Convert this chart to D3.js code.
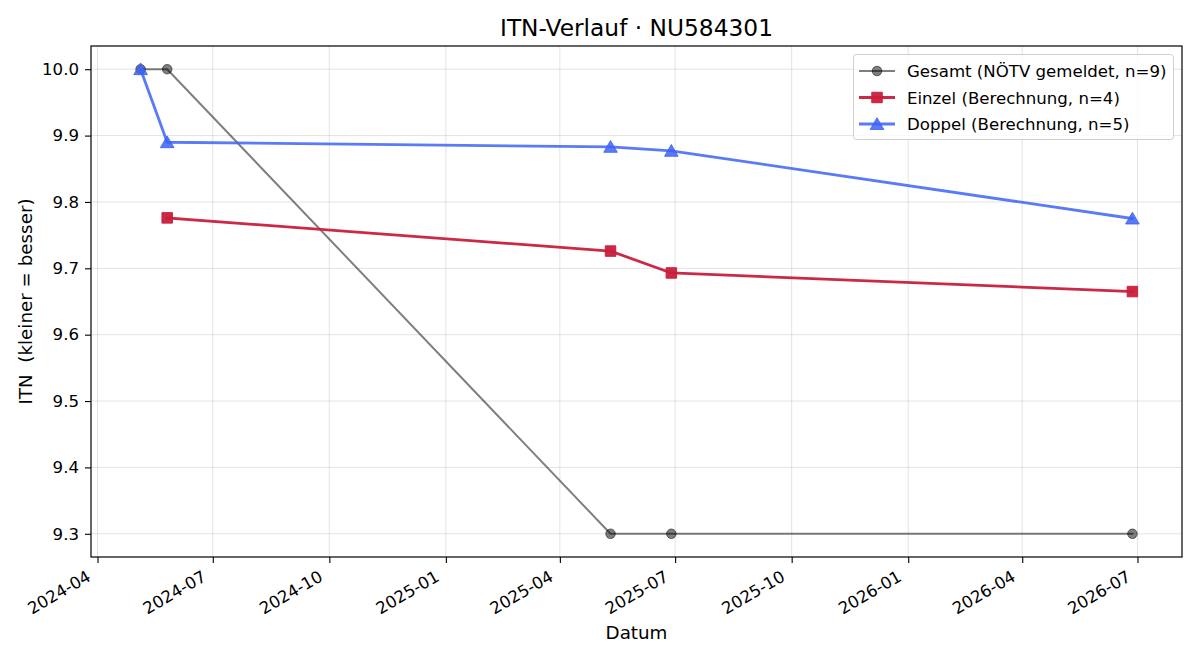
<!DOCTYPE html>
<html>
<head>
<meta charset="utf-8">
<script src="https://d3js.org/d3.v7.min.js"></script>
<style>
  body { margin: 0; background: #fff; }
  svg { font-family: "DejaVu Sans", sans-serif; display: block; }
</style>
</head>
<body>
<script>
// data
const gesamtDates  = ['2024-05-05', '2024-05-26', '2025-05-11', '2025-06-28', '2026-06-27'];
const gesamtValues = [10.0, 10.0, 9.3, 9.3, 9.3];
const einzelDates  = ['2024-05-26', '2025-05-11', '2025-06-28', '2026-06-27'];
const einzelValues = [9.776, 9.726, 9.693, 9.665];
const doppelDates  = ['2024-05-05', '2024-05-26', '2025-05-11', '2025-06-28', '2026-06-27'];
const doppelValues = [10.0, 9.890, 9.883, 9.877, 9.775];
const xTickLabels  = ['2024-04', '2024-07', '2024-10', '2025-01', '2025-04', '2025-07', '2025-10', '2026-01', '2026-04', '2026-07'];
const yTickValues  = [9.3, 9.4, 9.5, 9.6, 9.7, 9.8, 9.9, 10.0];
const seriesNames  = ['Gesamt (NÖTV gemeldet, n=9)', 'Einzel (Berechnung, n=4)', 'Doppel (Berechnung, n=5)'];

const W = 1200, H = 660;
const mLeft = 91, mRight = 1182, mTop = 46, mBottom = 557;
const parse = d3.utcParse('%Y-%m-%d');
const parseM = d3.utcParse('%Y-%m');

const series = [
  {name: seriesNames[0], dates: gesamtDates, values: gesamtValues, color: '#000', opacity: 0.5, lw: 2, marker: 'circle'},
  {name: seriesNames[1], dates: einzelDates, values: einzelValues, color: '#c81e3c', opacity: 0.95, lw: 2.8, marker: 'square'},
  {name: seriesNames[2], dates: doppelDates, values: doppelValues, color: '#3d63f5', opacity: 0.85, lw: 2.8, marker: 'triangle'}
].map(s => ({...s, pts: s.dates.map((d, i) => ({date: parse(d), value: s.values[i]}))}));

// domain with 5% margins like matplotlib
const allDates = series.flatMap(s => s.pts.map(p => +p.date));
const allVals = series.flatMap(s => s.values);
const dMin = d3.min(allDates), dMax = d3.max(allDates);
const dPad = (dMax - dMin) * 0.05;
const vMin = d3.min(allVals), vMax = d3.max(allVals);
const vPad = (vMax - vMin) * 0.05;

const x = d3.scaleUtc().domain([new Date(dMin - dPad), new Date(dMax + dPad)]).range([mLeft, mRight]);
const y = d3.scaleLinear().domain([vMin - vPad, vMax + vPad]).range([mBottom, mTop]);

const svg = d3.select('body').append('svg').attr('width', W).attr('height', H);

const xTicks = xTickLabels.map(parseM);

// grid
svg.append('g').selectAll('line').data(xTicks).enter().append('line')
  .attr('x1', d => x(d)).attr('x2', d => x(d)).attr('y1', mTop).attr('y2', mBottom)
  .attr('stroke', '#b0b0b0').attr('stroke-opacity', 0.35).attr('stroke-width', 1);
svg.append('g').selectAll('line').data(yTickValues).enter().append('line')
  .attr('x1', mLeft).attr('x2', mRight).attr('y1', d => y(d)).attr('y2', d => y(d))
  .attr('stroke', '#b0b0b0').attr('stroke-opacity', 0.35).attr('stroke-width', 1);

// axes
const xAxis = svg.append('g').attr('transform', 'translate(0,' + mBottom + ')')
  .call(d3.axisBottom(x).tickValues(xTicks).tickFormat(d3.utcFormat('%Y-%m')).tickSize(6).tickSizeOuter(0));
xAxis.select('.domain').remove();
xAxis.selectAll('.tick line').attr('stroke', '#000').attr('stroke-width', 1.1);
xAxis.selectAll('text')
  .attr('font-size', 16.6).attr('fill', '#000').attr('font-family', 'DejaVu Sans')
  .attr('text-anchor', 'end').attr('dy', null).attr('x', 0).attr('y', 0)
  .attr('transform', 'translate(-6,23) rotate(-30)');

const yAxis = svg.append('g').attr('transform', 'translate(' + mLeft + ',0)')
  .call(d3.axisLeft(y).tickValues(yTickValues).tickFormat(d3.format('.1f')).tickSize(6).tickPadding(6).tickSizeOuter(0));
yAxis.select('.domain').remove();
yAxis.selectAll('.tick line').attr('stroke', '#000').attr('stroke-width', 1.1);
yAxis.selectAll('text').attr('font-size', 16.6).attr('fill', '#000').attr('font-family', 'DejaVu Sans');

svg.append('rect').attr('x', mLeft).attr('y', mTop).attr('width', mRight - mLeft).attr('height', mBottom - mTop)
  .attr('fill', 'none').attr('stroke', '#000').attr('stroke-width', 1.2);

// lines + markers
const line = d3.line().x(d => x(d.date)).y(d => y(d.value));
const symOf = m => m === 'circle' ? d3.symbolCircle : m === 'square' ? d3.symbolSquare : d3.symbolTriangle;
const sizeOf = m => m === 'circle' ? 72 : m === 'square' ? 110 : 80;
const dyOf = m => m === 'triangle' ? 1.5 : 0;
series.forEach(s => {
  const g = svg.append('g');
  g.append('path').datum(s.pts).attr('d', line).attr('fill', 'none')
    .attr('stroke', s.color).attr('stroke-opacity', s.opacity).attr('stroke-width', s.lw)
    .attr('stroke-linejoin', 'round').attr('stroke-linecap', 'square');
  g.selectAll('.m').data(s.pts).enter().append('path')
    .attr('transform', d => 'translate(' + x(d.date) + ',' + (y(d.value) + dyOf(s.marker)) + ')')
    .attr('d', d3.symbol().type(symOf(s.marker)).size(sizeOf(s.marker)))
    .attr('fill', s.color).attr('fill-opacity', s.opacity)
    .attr('stroke', s.color).attr('stroke-opacity', s.opacity).attr('stroke-width', 1);
});

// title & labels
svg.append('text').attr('x', (mLeft + mRight) / 2).attr('y', 36).attr('text-anchor', 'middle')
  .attr('font-size', 23.3).text('ITN-Verlauf · NU584301');
svg.append('text').attr('x', (mLeft + mRight) / 2).attr('y', 639).attr('text-anchor', 'middle')
  .attr('font-size', 18.3).text('Datum');
svg.append('text').attr('transform', 'translate(31.5,' + ((mTop + mBottom) / 2) + ') rotate(-90)')
  .attr('text-anchor', 'middle').attr('font-size', 18.3).style('white-space', 'pre').text('ITN  (kleiner = besser)');

// legend
const lg = svg.append('g').attr('transform', 'translate(853,54)');
lg.append('rect').attr('x', 0.5).attr('y', 0.5).attr('width', 320).attr('height', 85).attr('rx', 3)
  .attr('fill', '#fff').attr('fill-opacity', 0.8).attr('stroke', '#d0d0d0').attr('stroke-width', 1);
series.forEach((s, i) => {
  const yy = 17 + i * 26.5;
  lg.append('line').attr('x1', 6).attr('x2', 42).attr('y1', yy).attr('y2', yy)
    .attr('stroke', s.color).attr('stroke-opacity', s.opacity).attr('stroke-width', s.lw);
  lg.append('path').attr('transform', 'translate(24,' + (yy + dyOf(s.marker)) + ')')
    .attr('d', d3.symbol().type(symOf(s.marker)).size(sizeOf(s.marker)))
    .attr('fill', s.color).attr('fill-opacity', s.opacity)
    .attr('stroke', s.color).attr('stroke-opacity', s.opacity);
  lg.append('text').attr('x', 54).attr('y', yy + 6).attr('font-size', 16.6).text(s.name);
});
</script>
</body>
</html>
